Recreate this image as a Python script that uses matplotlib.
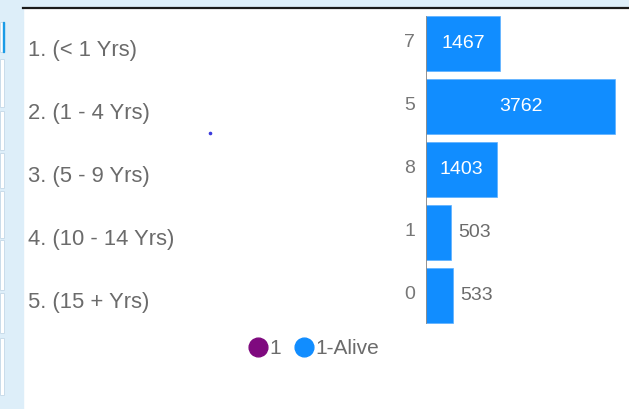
"""Age-band bar chart (Power BI style) recreated with matplotlib."""

import matplotlib

matplotlib.use("Agg")
import matplotlib.pyplot as plt
from matplotlib.lines import Line2D
from matplotlib.patches import Rectangle
from matplotlib.transforms import ScaledTranslation, blended_transform_factory

# data
CATEGORIES = ["1. (< 1 Yrs)", "2. (1 - 4 Yrs)", "3. (5 - 9 Yrs)", "4. (10 - 14 Yrs)", "5. (15 + Yrs)"]
SERIES_1 = [7, 5, 8, 1, 0]
SERIES_ALIVE = [1467, 3762, 1403, 503, 533]
SERIES_NAMES = ["1", "1-Alive"]

PURPLE = "#7f0a7f"
BLUE = "#118dff"
GRAY = "#6b6b6b"
PANEL = "#ddeef9"

W, H = 629, 409


def px(x, y):
    """figure fraction from pixel position (top-left origin)"""
    return x / W, 1 - y / H


plt.rcParams["font.family"] = ["Liberation Sans", "DejaVu Sans"]

fig = plt.figure(figsize=(W / 100, H / 100), dpi=100)
fig.patch.set_facecolor("white")

# page chrome: light blue strips, slicer boxes, dark top rule
fig.patches.append(Rectangle((0, 0), 23 / W, 1, transform=fig.transFigure, color=PANEL, zorder=0))
fig.patches.append(Rectangle((0, 1 - 7 / H), 1, 7 / H, transform=fig.transFigure, color=PANEL, zorder=0))
for top, bot in [(22, 52), (59, 107), (111, 150), (153, 188), (191, 238), (240, 290), (293, 333), (338, 395)]:
    fig.patches.append(Rectangle((0, 1 - bot / H), 4 / W, (bot - top) / H, transform=fig.transFigure,
                                 facecolor="white", edgecolor="#c9dcea", linewidth=0.7, zorder=1))
fig.patches.append(Rectangle((2.5 / W, 1 - 52 / H), 1.5 / W, 30 / H, transform=fig.transFigure,
                             color="#1a9be6", zorder=2))
fig.add_artist(Line2D([23 / W, 1], [1 - 7.5 / H] * 2, color="#1a1a1a", linewidth=1.6))
fig.add_artist(Line2D([210 / W], [1 - 133 / H], marker="o", markersize=1.6, color="#3b3bdc", linewidth=0))

# plot area
left, top, bottom = 426, 12.5, 327
ax = fig.add_axes([left / W, 1 - bottom / H, (W - left) / W, (bottom - top) / H])
ax.set_xlim(0, (W - left) / 0.0502)
ax.set_ylim(len(CATEGORIES) - 0.5, -0.5)
ax.axis("off")

ypos = list(range(len(CATEGORIES)))
ax.barh(ypos, SERIES_1, height=0.875, color=PURPLE, zorder=2)
ax.barh(ypos, SERIES_ALIVE, left=SERIES_1, height=0.875, color=BLUE, edgecolor="#5db0ff",
        linewidth=0.5, zorder=2)
ax.plot([0, 0], [-0.43, len(CATEGORIES) - 0.57], color="#8a8a8a", linewidth=1.3, zorder=3)

# data labels
for y, small, alive in zip(ypos, SERIES_1, SERIES_ALIVE):
    ax.annotate(str(small), (0, y), xytext=(-11, 1), textcoords="offset pixels",
                ha="right", va="center", fontsize=14, color="#777777")
    end = small + alive
    if alive > 1000:
        ax.text(small + alive / 2, y, str(alive), ha="center", va="center", fontsize=14, color="white", zorder=4)
    else:
        ax.annotate(str(alive), (end, y), xytext=(7, 0), textcoords="offset pixels",
                    ha="left", va="center", fontsize=14, color=GRAY)

# category labels, left-aligned at the panel edge
shift = ScaledTranslation(0, -7 / 100, fig.dpi_scale_trans)
trans = blended_transform_factory(fig.transFigure, ax.transData) + shift
for y, name in zip(ypos, CATEGORIES):
    ax.text(28 / W, y, name, transform=trans, ha="left", va="center", fontsize=15.8, color=GRAY, clip_on=False)

# legend
handles = [
    Line2D([], [], marker="o", linestyle="", markersize=13.5, color=c) for c in (PURPLE, BLUE)
]
fig.legend(handles, SERIES_NAMES, loc="center", bbox_to_anchor=px(314, 349), ncol=2, frameon=False,
           fontsize=15, labelcolor=GRAY, handlelength=0.8, handletextpad=0.15, columnspacing=0.7,
           borderpad=0, borderaxespad=0)

fig.savefig("out.png", dpi=100)
